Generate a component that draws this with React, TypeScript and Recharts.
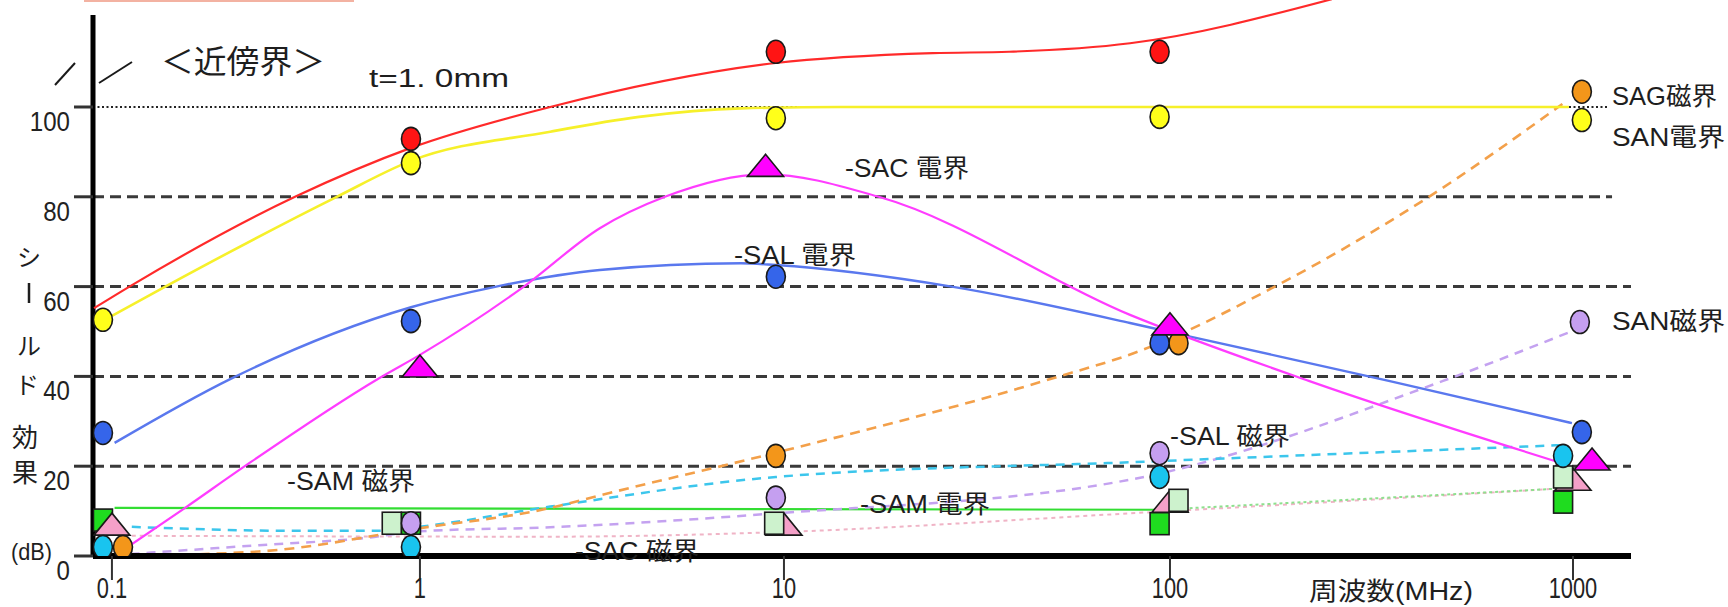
import React from 'react';
import { ComposedChart, Line, Scatter, XAxis, YAxis, ReferenceLine } from 'recharts';

// ---- axis definitions ----
const freqTicks = [0.1, 1, 10, 100, 1000];
const freqTickLabels = ['0.1', '1', '10', '100', '1000'];
const dbTicks = [0, 20, 40, 60, 80, 100];
const freqDomain = [0.0868, 1393];
const dbDomain = [0, 123.83];
// the original log axis has uneven decade widths (relative)
const decadeWidths = [308, 364, 386, 403];

// ---- measured points [MHz, dB] ----
const sagElecPts = [[0.935, 92.9], [9.5, 112.3], [94, 112.3]];
const sanElecPts = [[0.0935, 52.6], [0.935, 87.5], [9.5, 97.5], [94, 97.8], [1052, 97.1]];
const sagMagPts = [[0.1086, 2], [9.5, 22.3], [105, 47.4], [1052, 103.4]];
const salElecPts = [[0.0935, 27.4], [0.935, 52.3], [9.5, 62.2], [94, 47.4], [1052, 27.6]];
const sacElecPts = [[1.0, 42.3], [8.9, 87], [100, 51.7], [1115, 21.6]];
const salMagPts = [[0.0935, 2], [0.935, 2], [94, 17.6], [945, 22.3]];
const sanMagPts = [[0.935, 7.3], [9.5, 13], [94, 22.9], [1040, 52.1]];
const samMagPts = [[0.81, 7.3], [9.4, 7.3], [105, 12.4], [945, 17.6]];
const samElecPts = [[0.0935, 8], [0.935, 7.3], [94, 7.2], [945, 12]];
const sacMagPts = [[0.1, 7.1], [10, 7.1], [100, 12.2], [1000, 17.1]];

// ---- fitted curves [MHz, dB] ----
const sagElecCurve = [[0.0875, 55.2], [0.114, 60], [0.393, 80], [0.935, 90.9], [2.28, 100], [9.5, 109.8], [24.3, 112], [38.3, 112.3], [78.8, 114.2], [252, 124]];
const sanElecCurve = [[0.1, 53.5], [0.149, 60], [0.537, 80], [0.935, 88], [2.28, 94.5], [4, 97.8], [7.62, 99.7], [14, 100], [100, 100], [977, 100]];
const salElecCurve = [[0.102, 25.2], [0.242, 39.4], [0.935, 55.4], [1.62, 60], [3.12, 63.7], [7.62, 65.2], [9.5, 64.8], [27.2, 60], [78.8, 51.9], [108, 49.2], [349, 39], [994, 29.6]];
const sacElecCurve = [[0.102, 0], [0.171, 10.5], [0.27, 20], [0.737, 39.6], [1.0, 44.8], [1.93, 60], [3.12, 73], [4.71, 80], [8.9, 85], [17.6, 80], [78.8, 53.7], [221, 39], [913, 21]];
const sagMagCurve = [[0.102, 0], [0.3, 1], [1.0, 6.2], [2.28, 10.7], [3.12, 13.5], [9.5, 23], [48, 39.2], [85.5, 46], [182, 60], [427, 79.3], [953, 101]];
const salMagCurve = [[0.116, 6.5], [0.4, 5.6], [0.758, 5.6], [1.0, 6.5], [2.28, 11], [9.5, 17.6], [85.5, 21], [942, 24.7]];
const sanMagCurve = [[0.102, 0.2], [0.3, 2.4], [0.66, 4], [1.0, 5.5], [2.28, 6.4], [9.5, 9.5], [78.8, 17], [476, 39], [990, 50]];
const sacMagCurve = [[0.116, 4.5], [2.28, 4.3], [9.5, 5.3], [78.8, 9.5], [917, 15]];
const samElecCurve = [[0.102, 10.7], [94, 10.3]];
const samElecCurveHi = [[94, 10.3], [917, 15]];

// ---- helpers ----
function fu(f: number): number {
  const l = Math.log10(f) + 1;
  const i = Math.max(0, Math.min(decadeWidths.length - 1, Math.floor(l)));
  let base = 0;
  for (let k = 0; k < i; k++) base += decadeWidths[k];
  return base + (l - i) * decadeWidths[i];
}
const toData = (pts: number[][]) => pts.map(([f, v]) => ({ u: fu(f), v }));

const FONT = "'Liberation Sans', 'Noto Sans CJK JP', sans-serif";
const CJK = "'Noto Sans CJK JP', 'Liberation Sans', sans-serif";
const EDGE = '#1a1a1a';

const ellipse = (fill: string) => (p: any) => (
  <ellipse cx={p.cx} cy={p.cy} rx={9.5} ry={11.5} fill={fill} stroke={EDGE} strokeWidth={1.6} />
);
const tri = (fill: string) => (p: any) => (
  <polygon
    points={`${p.cx - 18},${p.cy + 11} ${p.cx},${p.cy - 11} ${p.cx + 18},${p.cy + 11}`}
    fill={fill}
    stroke={EDGE}
    strokeWidth={1.6}
  />
);
const sq = (fill: string) => (p: any) => (
  <rect x={p.cx - 9.5} y={p.cy - 11} width={19} height={22} fill={fill} stroke={EDGE} strokeWidth={1.6} />
);

const XTick = (props: any) => {
  const { x, y, payload } = props;
  let idx = 0;
  let best = Infinity;
  freqTicks.forEach((f, i) => {
    const d = Math.abs(fu(f) - payload.value);
    if (d < best) { best = d; idx = i; }
  });
  return (
    <g transform={`translate(${x},${y + 16}) scale(0.84,1.12)`}>
      <text x={0} y={0} textAnchor="middle" fontSize={26} fontFamily={FONT} fill="#222">
        {freqTickLabels[idx]}
      </text>
    </g>
  );
};

const YTick = (props: any) => {
  const { x, y, payload } = props;
  return (
    <g transform={`translate(${x - 2},${y + 24}) scale(0.86,1)`}>
      <text x={0} y={0} textAnchor="end" fontSize={28} fontFamily={FONT} fill="#222">
        {payload.value}
      </text>
    </g>
  );
};

const T = ({ x, cy, w, size, children, font = FONT, weight = 400 }: any) => (
  <text
    x={x}
    y={cy}
    dominantBaseline="central"
    fontSize={size}
    textLength={w}
    lengthAdjust="spacingAndGlyphs"
    fontFamily={font}
    fontWeight={weight}
    fill="#1e1e1e"
  >
    {children}
  </text>
);

const Overlay = () => (
  <svg width={1728} height={607} style={{ position: 'absolute', left: 0, top: 0, pointerEvents: 'none' }}>
    {/* edge of a frame above the chart */}
    <line x1={84} y1={1} x2={354} y2={1} stroke="#f3b2a2" strokeWidth={2} />
    {/* axis break marks */}
    <line x1={55} y1={85} x2={75} y2={63} stroke="#1a1a1a" strokeWidth={2} />
    <line x1={99} y1={83} x2={132} y2={62} stroke="#1a1a1a" strokeWidth={2} />
    <T x={161} cy={59} w={164} size={32} font={CJK}>＜近傍界＞</T>
    <T x={369} cy={78} w={140} size={25}>t=1. 0mm</T>
    <T x={845} cy={168} w={124} size={25}>-SAC 電界</T>
    <T x={734} cy={255} w={122} size={25}>-SAL 電界</T>
    <T x={287} cy={481} w={128} size={25}>-SAM 磁界</T>
    <T x={575} cy={551} w={124} size={25}>-SAC 磁界</T>
    <T x={860} cy={504} w={130} size={25}>-SAM 電界</T>
    <T x={1170} cy={436} w={120} size={25}>-SAL 磁界</T>
    <T x={1612} cy={96} w={105} size={25}>SAG磁界</T>
    <T x={1612} cy={137} w={113} size={25}>SAN電界</T>
    <T x={1612} cy={321} w={113} size={25}>SAN磁界</T>
    <T x={11} cy={551} w={41} size={24}>(dB)</T>
    <T x={1309} cy={591} w={164} size={25}>周波数(MHz)</T>
    {/* vertical y-axis title */}
    <text x={29} y={255} textAnchor="middle" dominantBaseline="central" fontSize={24} fontFamily={CJK} fill="#1e1e1e">シ</text>
    <line x1={29} y1={283} x2={29} y2={303} stroke="#1e1e1e" strokeWidth={2.5} />
    <text x={29} y={344} textAnchor="middle" dominantBaseline="central" fontSize={24} fontFamily={CJK} fill="#1e1e1e">ル</text>
    <text x={27} y={383} textAnchor="middle" dominantBaseline="central" fontSize={24} fontFamily={CJK} fill="#1e1e1e">ド</text>
    <text x={25} y={435} textAnchor="middle" dominantBaseline="central" fontSize={26} fontFamily={CJK} fill="#1e1e1e">効</text>
    <text x={25} y={470} textAnchor="middle" dominantBaseline="central" fontSize={26} fontFamily={CJK} fill="#1e1e1e">果</text>
  </svg>
);

const uMin = fu(freqDomain[0]);
const uMax = fu(freqDomain[1]);
const gridDash = { stroke: '#3a3a3a', strokeWidth: 3, strokeDasharray: '11 6' };

export default function App() {
  return (
    <div style={{ position: 'absolute', left: 0, top: 0, width: 1728, height: 607, background: '#fff' }}>
      <ComposedChart width={1728} height={607} margin={{ top: 0, right: 97, bottom: 0, left: 0 }}>
        <XAxis
          type="number"
          dataKey="u"
          domain={[uMin, uMax]}
          allowDataOverflow
          ticks={freqTicks.map(fu)}
          height={51}
          axisLine={{ stroke: '#000', strokeWidth: 6 }}
          tickLine={{ stroke: '#333', strokeWidth: 2 }}
          tickSize={24}
          tick={<XTick />}
          interval={0}
        />
        <YAxis
          type="number"
          dataKey="v"
          domain={dbDomain}
          allowDataOverflow
          ticks={dbTicks}
          width={93}
          axisLine={false}
          tickLine={{ stroke: '#333', strokeWidth: 3 }}
          tickSize={19}
          tick={<YTick />}
          interval={0}
        />
        {/* gridlines */}
        <ReferenceLine segment={[{ x: uMin, y: 100 }, { x: fu(1228), y: 100 }]} stroke="#222" strokeWidth={2} strokeDasharray="2 2.5" />
        <ReferenceLine segment={[{ x: uMin, y: 80 }, { x: fu(1250), y: 80 }]} {...gridDash} />
        <ReferenceLine y={60} {...gridDash} />
        <ReferenceLine y={40} {...gridDash} />
        <ReferenceLine y={20} {...gridDash} />
        {/* y axis line */}
        <ReferenceLine segment={[{ x: uMin, y: 0 }, { x: uMin, y: 120.5 }]} stroke="#000" strokeWidth={5} />

        {/* fitted curves */}
        <Line data={toData(sacMagCurve)} dataKey="v" type="monotone" stroke="#f0b4c6" strokeWidth={2} strokeDasharray="4 4" dot={false} isAnimationActive={false} />
        <Line data={toData(samElecCurveHi)} dataKey="v" type="monotone" stroke="#8ee08e" strokeWidth={2} strokeDasharray="3 3" dot={false} isAnimationActive={false} />
        <Line data={toData(samElecCurve)} dataKey="v" type="monotone" stroke="#33dd33" strokeWidth={2.2} dot={false} isAnimationActive={false} />
        <Line data={toData(sanMagCurve)} dataKey="v" type="monotone" stroke="#c4a2f0" strokeWidth={2.5} strokeDasharray="9 7" dot={false} isAnimationActive={false} />
        <Line data={toData(salMagCurve)} dataKey="v" type="monotone" stroke="#3cc6ec" strokeWidth={2.5} strokeDasharray="9 7" dot={false} isAnimationActive={false} />
        <Line data={toData(sagMagCurve)} dataKey="v" type="monotone" stroke="#f3a04a" strokeWidth={2.6} strokeDasharray="10 7" dot={false} isAnimationActive={false} />
        <Line data={toData(salElecCurve)} dataKey="v" type="monotone" stroke="#5a78ee" strokeWidth={2.4} dot={false} isAnimationActive={false} />
        <Line data={toData(sacElecCurve)} dataKey="v" type="monotone" stroke="#ff3cff" strokeWidth={2.2} dot={false} isAnimationActive={false} />
        <Line data={toData(sanElecCurve)} dataKey="v" type="monotone" stroke="#f6f02a" strokeWidth={2.6} dot={false} isAnimationActive={false} />
        <Line data={toData(sagElecCurve)} dataKey="v" type="monotone" stroke="#ff2a2a" strokeWidth={2.2} dot={false} isAnimationActive={false} />

        {/* measured markers */}
        <Scatter data={toData(samElecPts)} dataKey="v" shape={sq('#1fdc1f')} isAnimationActive={false} />
        <Scatter data={toData(sacMagPts)} dataKey="v" shape={tri('#f4a0c8')} isAnimationActive={false} />
        <Scatter data={toData(samMagPts)} dataKey="v" shape={sq('#cdf2cd')} isAnimationActive={false} />
        <Scatter data={toData(salMagPts)} dataKey="v" shape={ellipse('#19c4ef')} isAnimationActive={false} />
        <Scatter data={toData(sanMagPts)} dataKey="v" shape={ellipse('#c59ff0')} isAnimationActive={false} />
        <Scatter data={toData(sagMagPts)} dataKey="v" shape={ellipse('#f3961a')} isAnimationActive={false} />
        <Scatter data={toData(salElecPts)} dataKey="v" shape={ellipse('#3565ea')} isAnimationActive={false} />
        <Scatter data={toData(sanElecPts)} dataKey="v" shape={ellipse('#ffff1a')} isAnimationActive={false} />
        <Scatter data={toData(sagElecPts)} dataKey="v" shape={ellipse('#ff1414')} isAnimationActive={false} />
        <Scatter data={toData(sacElecPts)} dataKey="v" shape={tri('#ff00ff')} isAnimationActive={false} />
      </ComposedChart>
      <Overlay />
    </div>
  );
}
